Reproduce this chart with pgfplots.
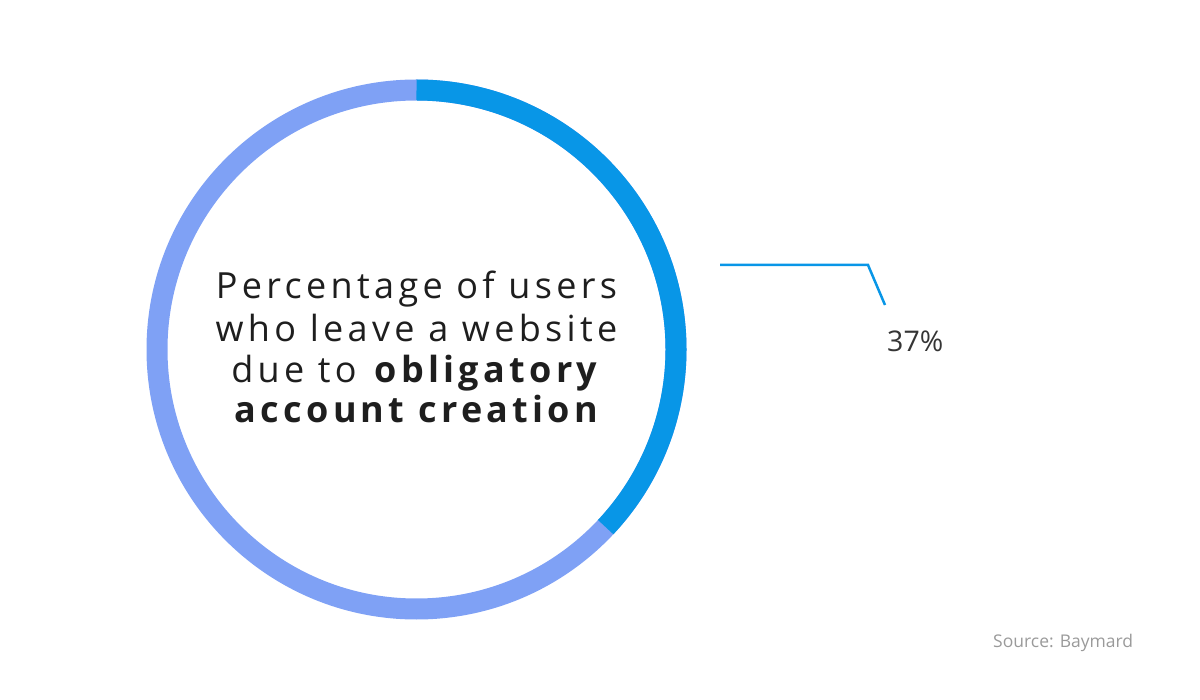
\documentclass[border=0pt]{standalone}
\usepackage{pgfplots}
\usepackage{pgfplotstable}
\usepackage{fontspec}
\pgfplotsset{compat=1.18}
\setmainfont{Open Sans}
\definecolor{segblue}{HTML}{0896E7}
\definecolor{seglight}{HTML}{7FA1F5}
\definecolor{txtdark}{HTML}{1E1E1E}
\definecolor{srcgray}{HTML}{9A9A9A}

\pgfplotstableread{
label share
Obligatory 37
Other 63
}\donutdata
\pgfplotstablegetelem{0}{share}\of\donutdata
\edef\shareA{\pgfplotsretval}

\begin{document}
\begin{tikzpicture}
\begin{axis}[
  x=1pt, y=1pt, xmin=0, xmax=1200, ymin=0, ymax=700, y dir=reverse,
  hide axis, scale only axis, clip=false,
]
\path (axis cs:0,0) rectangle (axis cs:1200,700);
% donut: full ring in light colour, then the 37% segment clockwise from 12 o'clock
\draw[seglight, line width=21pt] (axis cs:416.5,90) arc[start angle=90, end angle=-270, radius=259.5pt];
\draw[segblue, line width=21pt] (axis cs:416.5,90) arc[start angle=90, end angle={90-3.6*\shareA}, radius=259.5pt];
% leader line
\draw[segblue, line width=2.5pt, line join=miter] (axis cs:720,265) -- (axis cs:868,265) -- (axis cs:885,305);
\node[anchor=base west, inner sep=0pt, text=txtdark!90, font=\fontsize{28.5}{32}\selectfont] at (axis cs:887,352) {37\%};
% centre text
\node[anchor=base, inner sep=0pt, text=txtdark, font=\fontsize{36}{42}\selectfont\addfontfeatures{LetterSpace=12}] at (axis cs:416.5,299) {Percentage of users};
\node[anchor=base, inner sep=0pt, text=txtdark, font=\fontsize{36}{42}\selectfont\addfontfeatures{LetterSpace=12}] at (axis cs:416.5,342) {who leave a website};
\node[anchor=base, inner sep=0pt, text=txtdark, font=\fontsize{36}{42}\selectfont\addfontfeatures{LetterSpace=12}] at (axis cs:416.5,383) {due to \textbf{obligatory}};
\node[anchor=base, inner sep=0pt, text=txtdark, font=\fontsize{36}{42}\selectfont\bfseries\addfontfeatures{LetterSpace=12}] at (axis cs:416.5,423) {account creation};
% source
\node[anchor=base west, inner sep=0pt, text=srcgray, font=\fontsize{17.5}{21}\selectfont] at (axis cs:993,647) {Source: Baymard};
\end{axis}
\end{tikzpicture}
\end{document}
